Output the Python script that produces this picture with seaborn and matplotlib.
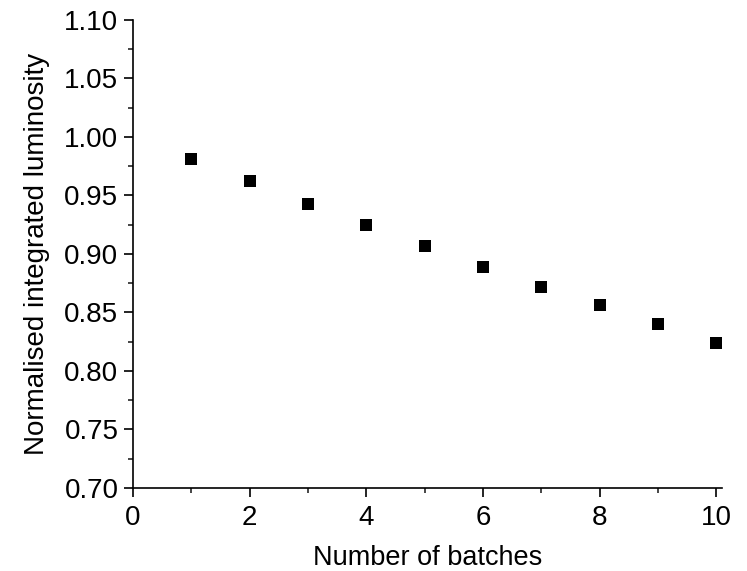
import numpy as np
import pandas as pd
import seaborn as sns
import matplotlib.pyplot as plt
from matplotlib.ticker import MultipleLocator

batches = [1, 2, 3, 4, 5, 6, 7, 8, 9, 10]
luminosity = [0.981, 0.962, 0.943, 0.925, 0.907, 0.889, 0.872, 0.856, 0.840, 0.824]

df = pd.DataFrame({"batches": batches, "lumi": luminosity})

sns.set_style("ticks")
plt.rcParams["font.family"] = ["Liberation Sans", "DejaVu Sans"]
plt.rcParams["text.color"] = "black"
plt.rcParams["axes.labelcolor"] = "black"

fig = plt.figure(figsize=(7.47, 5.71), dpi=100)
ax = fig.add_axes([0.178, 0.1454, 0.7885, 0.8196])

sns.scatterplot(data=df, x="batches", y="lumi", marker="s", s=75,
                color="black", edgecolor="black", linewidth=0, ax=ax)

ax.set_xlim(0, 10.1)
ax.set_ylim(0.70, 1.10)
ax.xaxis.set_major_locator(MultipleLocator(2))
ax.xaxis.set_minor_locator(MultipleLocator(1))
ax.yaxis.set_major_locator(MultipleLocator(0.05))
ax.yaxis.set_minor_locator(MultipleLocator(0.025))
ax.yaxis.set_major_formatter(plt.FormatStrFormatter("%.2f"))

ax.tick_params(which="major", direction="out", length=6.5, width=1.2, pad=4,
               labelsize=20, colors="black")
ax.tick_params(axis="x", which="major", pad=6)
ax.tick_params(which="minor", direction="out", length=3.5, width=1.2)
for sp in ["left", "bottom"]:
    ax.spines[sp].set_linewidth(1.2)
    ax.spines[sp].set_color("black")
sns.despine(ax=ax)

ax.set_xlabel("Number of batches", fontsize=19.5, labelpad=10)
ax.set_ylabel("Normalised integrated luminosity", fontsize=20, labelpad=10)

fig.savefig("out.png", dpi=100)
